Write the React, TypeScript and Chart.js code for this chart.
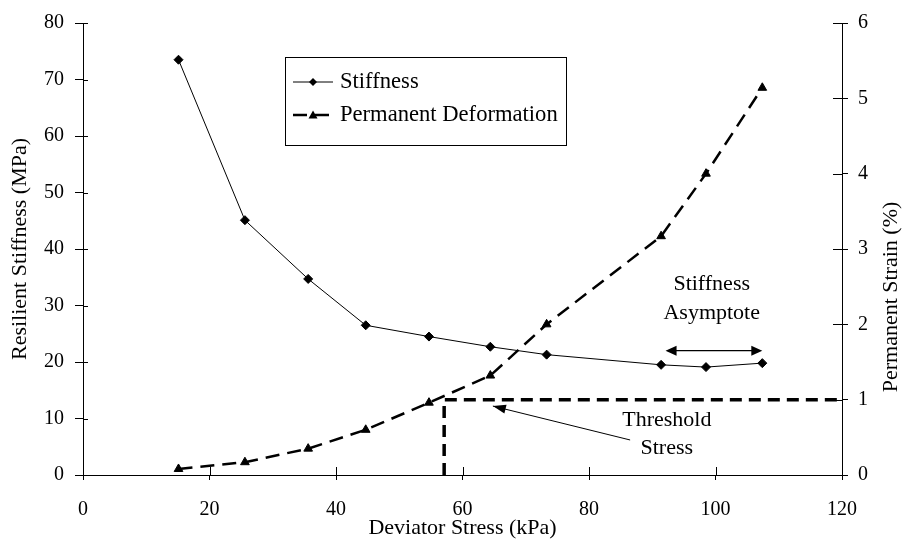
import React, { useEffect, useRef } from 'react';
import { Chart, registerables } from 'chart.js';

Chart.register(...registerables);

// ---- data ----
const deviatorStress = [15.1, 25.6, 35.6, 44.7, 54.7, 64.4, 73.3, 91.4, 98.5, 107.4];
const stiffness = [73.5, 45.1, 34.7, 26.5, 24.5, 22.7, 21.3, 19.5, 19.1, 19.8];
const permanentStrain = [0.08, 0.17, 0.35, 0.6, 0.96, 1.32, 2.0, 3.17, 4.0, 5.14];
const thresholdX = [57.1, 57.1, 120];
const thresholdY = [0, 1, 1];

const xRange = [0, 120, 20];
const yLeftRange = [0, 80, 10];
const yRightRange = [0, 6, 1];

const seriesLabels = ['Stiffness', 'Permanent Deformation'];
const xTitle = 'Deviator Stress (kPa)';
const yLeftTitle = 'Resilient Stiffness (MPa)';
const yRightTitle = 'Permanent Strain (%)';

// annotations (in data units: x, left-axis y)
const asymptoteText = ['Stiffness', 'Asymptote'];
const asymptoteTextPos = { x: 99.4, y: [33.8, 28.7] };
const asymptoteArrow = { x1: 92.1, x2: 107.4, y: 22.0 };
const thresholdText = ['Threshold', 'Stress'];
const thresholdTextPos = { x: 92.3, y: [9.7, 4.8] };
const thresholdArrow = { fromX: 86.5, fromY: 6.2, toX: 64.8, toY: 12.2 };

const FONT = '"Liberation Serif", "Times New Roman", serif';

function arrowHead(ctx: CanvasRenderingContext2D, x1: number, y1: number, x2: number, y2: number, len: number, half: number) {
  const a = Math.atan2(y2 - y1, x2 - x1);
  ctx.beginPath();
  ctx.moveTo(x2, y2);
  ctx.lineTo(x2 - len * Math.cos(a) + half * Math.sin(a), y2 - len * Math.sin(a) - half * Math.cos(a));
  ctx.lineTo(x2 - len * Math.cos(a) - half * Math.sin(a), y2 - len * Math.sin(a) + half * Math.cos(a));
  ctx.closePath();
  ctx.fill();
}

const decorPlugin = {
  id: 'decor',
  afterDraw(chart: any) {
    const ctx: CanvasRenderingContext2D = chart.ctx;
    const xs = chart.scales.x;
    const yl = chart.scales.y;
    const yr = chart.scales.y2;
    const area = chart.chartArea;
    ctx.save();
    ctx.strokeStyle = '#000';
    ctx.fillStyle = '#000';
    ctx.lineWidth = 1;
    ctx.setLineDash([]);

    // inner tick parts
    ctx.beginPath();
    xs.ticks.forEach((t: any) => {
      const px = Math.round(xs.getPixelForValue(t.value)) + 0.5;
      ctx.moveTo(px, area.bottom);
      ctx.lineTo(px, area.bottom - 8);
    });
    yl.ticks.forEach((t: any) => {
      const py = Math.round(yl.getPixelForValue(t.value)) + 0.5;
      ctx.moveTo(area.left, py);
      ctx.lineTo(area.left + 5, py);
    });
    yr.ticks.forEach((t: any) => {
      const py = Math.round(yr.getPixelForValue(t.value)) + 0.5;
      ctx.moveTo(area.right, py);
      ctx.lineTo(area.right - 9, py);
    });
    ctx.stroke();

    // axis titles
    ctx.font = `22px ${FONT}`;
    ctx.textAlign = 'center';
    ctx.textBaseline = 'middle';
    ctx.fillText(xTitle, (area.left + area.right) / 2 + 0, 528);
    ctx.save();
    ctx.translate(20, (area.top + area.bottom) / 2);
    ctx.rotate(-Math.PI / 2);
    ctx.fillText(yLeftTitle, 0, 0);
    ctx.restore();
    ctx.save();
    ctx.translate(891, 297);
    ctx.rotate(-Math.PI / 2);
    ctx.fillText(yRightTitle, 0, 0);
    ctx.restore();

    // annotation texts
    asymptoteText.forEach((s, i) => {
      ctx.fillText(s, xs.getPixelForValue(asymptoteTextPos.x), yl.getPixelForValue(asymptoteTextPos.y[i]));
    });
    thresholdText.forEach((s, i) => {
      ctx.fillText(s, xs.getPixelForValue(thresholdTextPos.x), yl.getPixelForValue(thresholdTextPos.y[i]));
    });

    // asymptote double arrow
    const ax1 = xs.getPixelForValue(asymptoteArrow.x1);
    const ax2 = xs.getPixelForValue(asymptoteArrow.x2);
    const ay = yl.getPixelForValue(asymptoteArrow.y);
    ctx.lineWidth = 1.2;
    ctx.beginPath();
    ctx.moveTo(ax1 + 6, ay);
    ctx.lineTo(ax2 - 6, ay);
    ctx.stroke();
    arrowHead(ctx, ax2, ay, ax1, ay, 11, 5);
    arrowHead(ctx, ax1, ay, ax2, ay, 11, 5);

    // threshold arrow
    const tx1 = xs.getPixelForValue(thresholdArrow.fromX);
    const ty1 = yl.getPixelForValue(thresholdArrow.fromY);
    const tx2 = xs.getPixelForValue(thresholdArrow.toX);
    const ty2 = yl.getPixelForValue(thresholdArrow.toY);
    ctx.lineWidth = 1;
    ctx.beginPath();
    ctx.moveTo(tx1, ty1);
    ctx.lineTo(tx2, ty2);
    ctx.stroke();
    arrowHead(ctx, tx1, ty1, tx2, ty2, 13, 4.5);

    // legend
    const lx = 285.5, ly = 57.5, lw = 281, lh = 88;
    ctx.fillStyle = '#fff';
    ctx.fillRect(lx, ly, lw, lh);
    ctx.strokeStyle = '#000';
    ctx.lineWidth = 1;
    ctx.strokeRect(lx, ly, lw, lh);
    ctx.fillStyle = '#000';
    const rows = [82, 115];
    chart.data.datasets.slice(0, 2).forEach((ds: any, i: number) => {
      const y = rows[i];
      ctx.save();
      ctx.lineWidth = ds.borderWidth;
      ctx.setLineDash(ds.borderDash || []);
      ctx.beginPath();
      ctx.moveTo(293, y);
      ctx.lineTo(333, y);
      ctx.stroke();
      ctx.restore();
      const cx = 313;
      if (ds.pointStyle === 'rectRot') {
        const r = 4;
        ctx.beginPath();
        ctx.moveTo(cx, y - r);
        ctx.lineTo(cx + r, y);
        ctx.lineTo(cx, y + r);
        ctx.lineTo(cx - r, y);
        ctx.closePath();
        ctx.fill();
      } else {
        const r = 4.5;
        ctx.beginPath();
        ctx.moveTo(cx, y - r);
        ctx.lineTo(cx + r, y + r * 0.75);
        ctx.lineTo(cx - r, y + r * 0.75);
        ctx.closePath();
        ctx.fill();
      }
      ctx.font = `22.6px ${FONT}`;
      ctx.textAlign = 'left';
      ctx.textBaseline = 'middle';
      ctx.fillText(ds.label, 340, y);
    });

    ctx.restore();
  },
};

export default function App() {
  const ref = useRef<HTMLCanvasElement>(null);
  useEffect(() => {
    document.body.style.margin = '0';
    const canvas = ref.current!;
    const chart = new Chart(canvas, {
      type: 'scatter',
      data: {
        datasets: [
          {
            label: seriesLabels[0],
            data: deviatorStress.map((x, i) => ({ x, y: stiffness[i] })),
            yAxisID: 'y',
            showLine: true,
            borderColor: '#000',
            borderWidth: 1,
            borderDash: [],
            pointStyle: 'rectRot',
            pointRadius: 4.5,
            pointBackgroundColor: '#000',
            pointBorderColor: '#000',
            pointBorderWidth: 1,
          } as any,
          {
            label: seriesLabels[1],
            data: deviatorStress.map((x, i) => ({ x, y: permanentStrain[i] })),
            yAxisID: 'y2',
            showLine: true,
            borderColor: '#000',
            borderWidth: 2.5,
            borderDash: [14, 8],
            pointStyle: 'triangle',
            pointRadius: 5,
            pointBackgroundColor: '#000',
            pointBorderColor: '#000',
            pointBorderWidth: 1,
          } as any,
          {
            label: 'Threshold',
            data: thresholdX.map((x, i) => ({ x, y: thresholdY[i] })),
            yAxisID: 'y2',
            showLine: true,
            borderColor: '#000',
            borderWidth: 3.5,
            borderDash: [12, 7],
            pointRadius: 0,
          } as any,
        ],
      },
      options: {
        responsive: false,
        animation: false,
        layout: { padding: { top: 21, left: 0, right: 0, bottom: 0 } },
        plugins: { legend: { display: false }, tooltip: { enabled: false } },
        scales: {
          x: {
            type: 'linear',
            min: xRange[0],
            max: xRange[1],
            ticks: { stepSize: xRange[2], color: '#000', font: { family: FONT, size: 20 }, padding: 18, maxRotation: 0 },
            grid: { display: true, drawOnChartArea: false, drawTicks: true, tickLength: 5, color: '#000' },
            border: { display: true, color: '#000', width: 1 },
            afterFit: (s: any) => { s.height = 67; },
          },
          y: {
            type: 'linear',
            position: 'left',
            min: yLeftRange[0],
            max: yLeftRange[1],
            ticks: { stepSize: yLeftRange[2], color: '#000', font: { family: FONT, size: 20 }, padding: 11 },
            grid: { display: true, drawOnChartArea: false, drawTicks: true, tickLength: 8, color: '#000' },
            border: { display: true, color: '#000', width: 1 },
            afterFit: (s: any) => { s.width = 83; },
          },
          y2: {
            type: 'linear',
            position: 'right',
            min: yRightRange[0],
            max: yRightRange[1],
            ticks: { stepSize: yRightRange[2], color: '#000', font: { family: FONT, size: 20 }, padding: 10 },
            grid: { display: true, drawOnChartArea: false, drawTicks: true, tickLength: 6, color: '#000' },
            border: { display: true, color: '#000', width: 1 },
            afterFit: (s: any) => { s.width = 63; },
          },
        },
      } as any,
      plugins: [decorPlugin],
    });
    return () => chart.destroy();
  }, []);
  return (
    <div style={{ width: 905, height: 542, background: '#fff' }}>
      <canvas ref={ref} width={905} height={542} style={{ display: 'block' }} />
    </div>
  );
}
